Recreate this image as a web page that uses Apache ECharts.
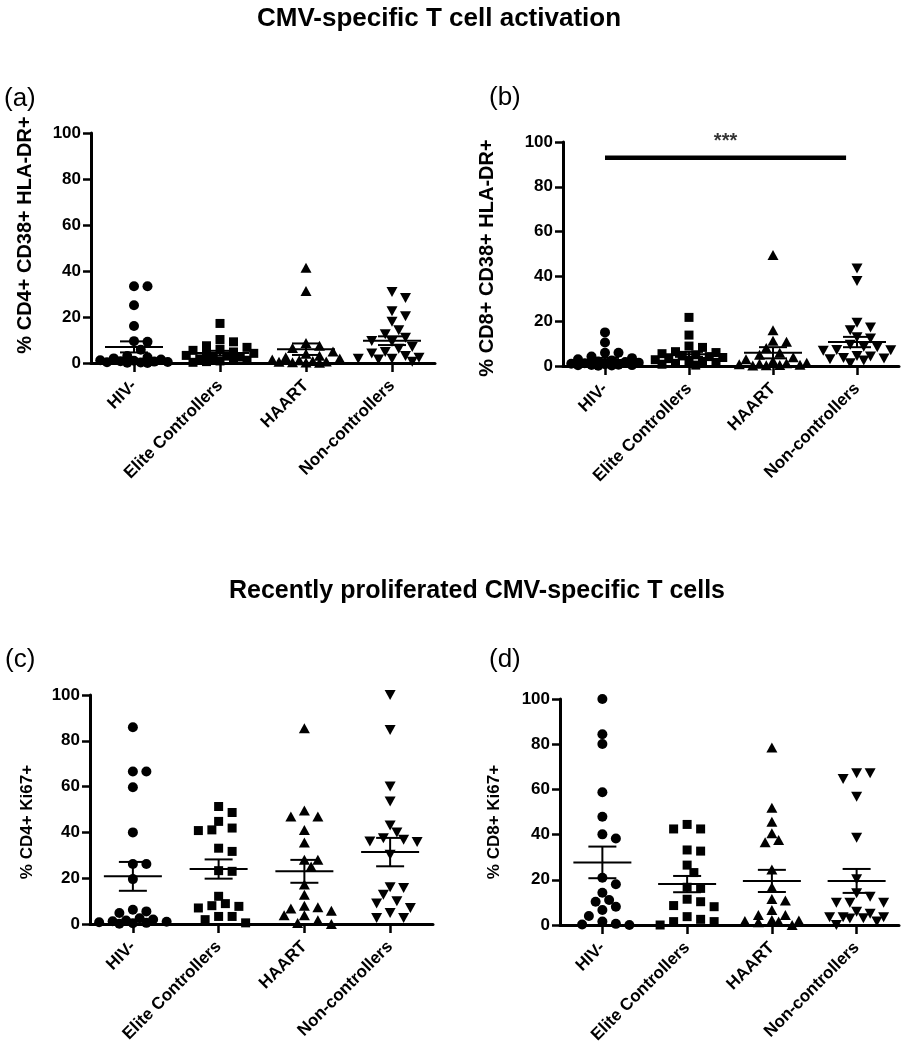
<!DOCTYPE html>
<html>
<head>
<meta charset="utf-8">
<script src="https://cdn.jsdelivr.net/npm/echarts@6/dist/echarts.min.js"></script>
<style>
html,body{margin:0;padding:0;background:#fff;}
#chart{width:907px;height:1050px;}
</style>
</head>
<body>
<div id="chart"></div>
<script>
// ---------- data ----------
const categories = ['HIV-', 'Elite Controllers', 'HAART', 'Non-controllers'];

// (a) % CD4+ CD38+ HLA-DR+
const aHIV   = [33.4, 33.4, 25.1, 16.1, 9.5, 9.2, 5.8, 3.0, 2.5, 2.0, 1.5, 1.2, 1.0, 0.8, 0.6, 0.4, 0.3, 0.2, 0.1, 0.0];
const aElite = [17.2, 10.2, 9.2, 7.5, 6.8, 6.0, 5.5, 4.8, 4.2, 3.8, 3.3, 3.0, 2.6, 2.2, 1.8, 1.5, 1.2, 0.9, 0.6, 0.3];
const aHAART = [41.4, 31.3, 8.7, 7.5, 6.5, 5.0, 4.0, 3.2, 2.5, 2.0, 1.5, 1.2, 0.9, 0.7, 0.5, 0.3, 0.2, 0.1];
const aNon   = [30.9, 28.3, 22.5, 20.3, 17.9, 14.2, 12.5, 11.0, 9.6, 9.2, 7.0, 6.2, 4.8, 4.1, 3.0, 2.3, 1.9, 1.9, 1.5, 0.5];
const aMean  = [7.0, 4.3, 6.0, 9.7];
const aSem   = [2.4, 1.0, 2.5, 1.9];

// (b) % CD8+ CD38+ HLA-DR+
const bHIV   = [15.0, 10.5, 5.9, 5.9, 4.2, 3.5, 3.0, 2.5, 2.0, 1.8, 1.5, 1.2, 1.0, 0.8, 0.6, 0.5, 0.4, 0.3, 0.2, 0.1];
const bElite = [21.7, 13.8, 8.9, 8.3, 6.4, 6.0, 5.5, 5.0, 4.5, 4.2, 3.8, 3.3, 2.8, 2.4, 2.0, 1.6, 1.2, 0.8, 0.4];
const bHAART = [49.5, 16.0, 11.3, 10.8, 8.0, 5.9, 5.0, 3.9, 3.0, 2.2, 1.5, 1.2, 1.0, 0.8, 0.6, 0.4, 0.3, 0.2];
const bNon   = [43.5, 38.0, 19.3, 17.2, 16.0, 12.8, 12.3, 9.5, 8.6, 8.4, 7.1, 7.0, 6.8, 4.5, 4.2, 3.6, 3.4, 3.0, 2.5, 1.2];
const bMean  = [2.7, 5.2, 5.9, 10.7];
const bSem   = [0.9, 1.1, 2.5, 2.3];
const sigBarX = [0.5, 3.37];   // on the category scale (0..4)
const sigBarY = 93;
const sigText = '***';

// (c) % CD4+ Ki67+
const cHIV   = [85.9, 66.6, 66.6, 59.7, 40.0, 26.2, 26.2, 19.6, 6.2, 5.5, 4.8, 2.5, 2.0, 1.5, 1.2, 1.0, 0.8, 0.5, 0.3, 0.1];
const cElite = [51.3, 48.7, 44.8, 41.9, 41.1, 40.8, 33.1, 31.7, 23.3, 23.0, 12.1, 8.9, 8.0, 7.7, 7.0, 3.3, 3.3, 1.9, 0.5];
const cHAART = [85.5, 49.6, 46.9, 46.9, 41.1, 35.6, 28.1, 28.1, 25.1, 17.2, 12.8, 8.0, 7.3, 6.8, 5.8, 3.8, 3.8, 1.6, 0.4, 0.0];
const cNon   = [100, 84.7, 60.0, 53.5, 43.0, 40.0, 37.5, 36.8, 36.0, 35.8, 30.2, 16.1, 15.7, 12.8, 9.9, 8.9, 7.0, 4.8, 2.6, 2.6];
const cMean  = [20.8, 24.0, 23.0, 31.4];
const cSem   = [6.3, 4.2, 5.0, 6.2];

// (d) % CD8+ Ki67+
const dHIV   = [100, 84.4, 80.1, 58.7, 47.9, 40.1, 38.3, 20.9, 18.0, 14.3, 11.1, 10.3, 8.1, 6.6, 4.0, 1.5, 0.5, 0.2, 0.0];
const dElite = [44.5, 42.5, 42.5, 33.2, 32.7, 26.5, 23.2, 16.7, 16.2, 11.4, 10.3, 8.6, 8.1, 3.7, 2.5, 1.5, 1.5, 0.0];
const dHAART = [78.5, 51.9, 45.7, 40.6, 37.6, 36.6, 24.6, 16.7, 11.5, 10.8, 6.6, 4.4, 4.4, 2.2, 2.0, 1.8, 1.5, 1.2, 0.0];
const dNon   = [67.1, 67.1, 64.6, 56.8, 38.6, 20.2, 14.0, 12.5, 9.9, 9.9, 9.9, 5.9, 5.0, 3.4, 3.4, 3.4, 3.0, 2.9, 1.5, 0.0];
const dMean  = [27.7, 18.1, 19.5, 19.5];
const dSem   = [7.0, 3.6, 4.9, 5.3];

const title1 = 'CMV-specific T cell activation';
const title2 = 'Recently proliferated CMV-specific T cells';

// ---------- layout ----------
const FONT = '"Liberation Sans", Arial, Helvetica, sans-serif';
const panels = [
  {grid:{left:91, top:133, width:344, height:230}, groups:[aHIV,aElite,aHAART,aNon], mean:aMean, sem:aSem,
   ylabel:'% CD4+ CD38+ HLA-DR+', ylx:25, yly:235, yls:20, letter:'(a)', lx:4, ly:99},
  {grid:{left:563, top:142, width:336, height:224}, groups:[bHIV,bElite,bHAART,bNon], mean:bMean, sem:bSem,
   ylabel:'% CD8+ CD38+ HLA-DR+', ylx:487, yly:258, yls:20, letter:'(b)', lx:489, ly:98, sig:true},
  {grid:{left:90, top:695, width:343, height:229}, groups:[cHIV,cElite,cHAART,cNon], mean:cMean, sem:cSem,
   ylabel:'% CD4+ Ki67+', ylx:27, yly:822, yls:17, letter:'(c)', lx:5, ly:660},
  {grid:{left:560, top:699, width:339, height:226}, groups:[dHIV,dElite,dHAART,dNon], mean:dMean, sem:dSem,
   ylabel:'% CD8+ Ki67+', ylx:494, yly:822, yls:17, letter:'(d)', lx:489, ly:660}
];

const shapes  = ['circle', 'rect', 'triangle', 'triangle'];
const rots    = [0, 0, 0, 180];
const sizes   = [10, 9, [11, 10], [11, 10]];

// simple beeswarm layout in pixel space -> converted to axis units
function swarm(values, pxPerY, step, minDist, maxOff) {
  const order = values.map((v, i) => i).sort((a, b) => values[b] - values[a]);
  const placed = [];
  const off = new Array(values.length).fill(0);
  const cands = [0];
  for (let k = 1; k * step <= maxOff; k++) { cands.push(k * step, -k * step); }
  for (const i of order) {
    const y = values[i] * pxPerY;
    let best = null, bestScore = Infinity;
    for (const c of cands) {
      let worst = 0;
      for (const p of placed) {
        const d = Math.hypot(p.x - c, p.y - y);
        if (d < minDist) worst = Math.max(worst, minDist - d);
      }
      if (worst === 0) { best = c; break; }
      if (worst < bestScore) { bestScore = worst; best = c; }
    }
    off[i] = best;
    placed.push({x: best, y});
  }
  return off;
}

const grids = [], xAxes = [], yAxes = [], series = [], graphics = [];

panels.forEach((p, pi) => {
  grids.push(Object.assign({containLabel:false}, p.grid));
  xAxes.push({
    type:'category', gridIndex:pi, data:categories, position:'bottom',
    boundaryGap:true,
    axisLine:{show:true, onZero:false, lineStyle:{color:'#000', width:3}},
    axisTick:{show:true, alignWithLabel:true, length:9, lineStyle:{color:'#000', width:2.5}},
    axisLabel:{interval:0, rotate:45, margin:20, color:'#000', fontSize:17, fontWeight:'bold', fontFamily:FONT},
    splitLine:{show:false}
  });
  xAxes.push({type:'value', gridIndex:pi, min:0, max:4, show:false, position:'bottom'});
  yAxes.push({
    type:'value', gridIndex:pi, min:0, max:100, interval:20,
    axisLine:{show:true, onZero:false, lineStyle:{color:'#000', width:3}},
    axisTick:{show:true, length:8, lineStyle:{color:'#000', width:2.5}},
    axisLabel:{margin:10, color:'#000', fontSize:17, fontWeight:'bold', fontFamily:FONT},
    splitLine:{show:false}
  });
  const pxPerY = p.grid.height / 100;
  const pxPerX = p.grid.width / 4;
  p.groups.forEach((vals, gi) => {
    const offs = swarm(vals, pxPerY, 6.75, 9.5, 34);
    series.push({
      type:'scatter', xAxisIndex:2 * pi + 1, yAxisIndex:pi,
      symbol:shapes[gi], symbolRotate:rots[gi], symbolSize:sizes[gi],
      itemStyle:{color:'#000', opacity:1}, clip:false, silent:true, z:2,
      data: vals.map((v, i) => [gi + 0.5 + offs[i] / pxPerX, v])
    });
  });
  series.push({
    type:'custom', xAxisIndex:2 * pi + 1, yAxisIndex:pi, z:3, clip:false, silent:true,
    encode:{x:0, y:1},
    data: p.mean.map((m, i) => [i + 0.5, m, p.sem[i]]),
    renderItem: (params, api) => {
      const x = api.value(0), m = api.value(1), s = api.value(2);
      const c = api.coord([x, m]), t = api.coord([x, m + s]), b = api.coord([x, m - s]);
      const st = {stroke:'#000', lineWidth:2};
      return {type:'group', children:[
        {type:'line', shape:{x1:c[0] - 29, y1:c[1], x2:c[0] + 29, y2:c[1]}, style:st},
        {type:'line', shape:{x1:c[0], y1:t[1], x2:c[0], y2:b[1]}, style:st},
        {type:'line', shape:{x1:c[0] - 14, y1:t[1], x2:c[0] + 14, y2:t[1]}, style:st},
        {type:'line', shape:{x1:c[0] - 14, y1:b[1], x2:c[0] + 14, y2:b[1]}, style:st}
      ]};
    }
  });
  if (p.sig) {
    series.push({
      type:'line', xAxisIndex:2 * pi + 1, yAxisIndex:pi, symbol:'none', silent:true, z:4,
      lineStyle:{color:'#000', width:4.5}, data: sigBarX.map(x => [x, sigBarY])
    });
    series.push({
      type:'scatter', xAxisIndex:2 * pi + 1, yAxisIndex:pi, symbolSize:0, silent:true, z:4,
      data:[[(sigBarX[0] + sigBarX[1]) / 2, sigBarY]],
      label:{show:true, position:'top', distance:6, formatter:sigText, color:'#000',
             fontSize:20, fontWeight:'bold', fontFamily:FONT}
    });
  }
  graphics.push({
    type:'text', x:p.ylx, y:p.yly, rotation:Math.PI / 2,
    style:{text:p.ylabel, fill:'#000', font:'bold ' + p.yls + 'px ' + FONT, textAlign:'center', textVerticalAlign:'middle'}
  });
  graphics.push({
    type:'text', x:p.lx, y:p.ly,
    style:{text:p.letter, fill:'#000', font:'26px ' + FONT, textAlign:'left', textVerticalAlign:'middle'}
  });
});

graphics.push({type:'text', x:439, y:19,
  style:{text:title1, fill:'#000', font:'bold 26px ' + FONT, textAlign:'center', textVerticalAlign:'middle'}});
graphics.push({type:'text', x:477, y:591,
  style:{text:title2, fill:'#000', font:'bold 25px ' + FONT, textAlign:'center', textVerticalAlign:'middle'}});

const chart = echarts.init(document.getElementById('chart'), null, {renderer:'canvas'});
chart.setOption({
  backgroundColor:'#fff',
  animation:false,
  grid:grids, xAxis:xAxes, yAxis:yAxes, series:series, graphic:graphics
});
</script>
</body>
</html>
